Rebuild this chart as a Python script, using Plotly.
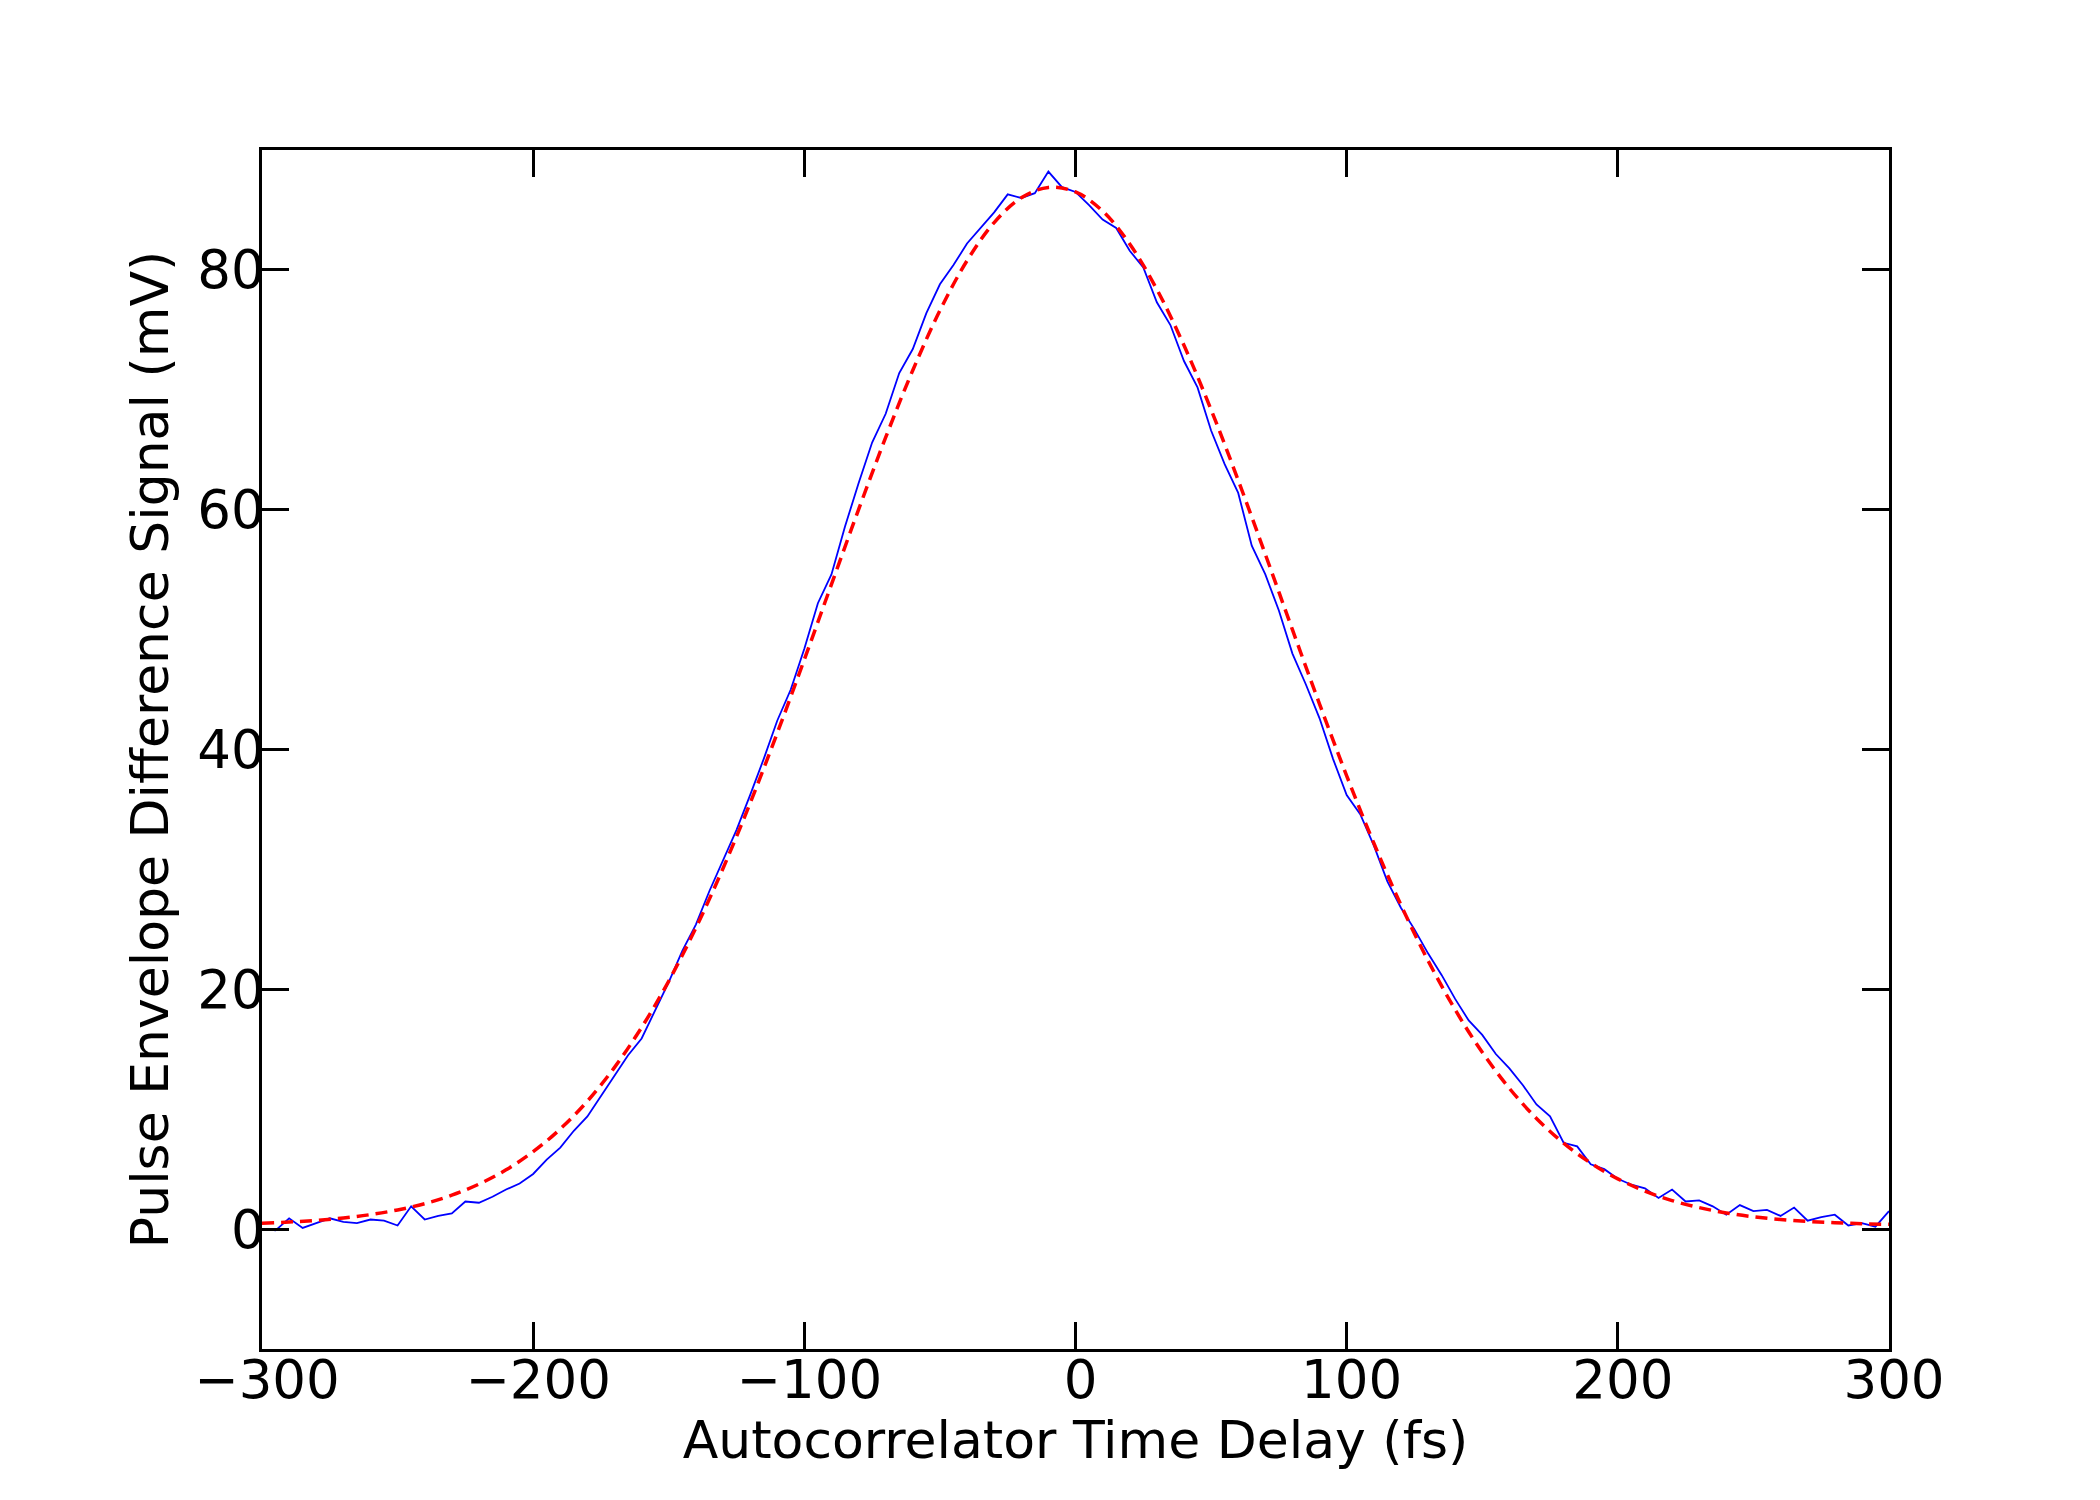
import plotly.graph_objects as go

delay_fs = list(range(-300, 301, 5))
signal_mv = [
    0.0, -0.1, 0.9, 0.1, 0.5, 0.9, 0.6, 0.5, 0.8, 0.7,
    0.3, 1.9, 0.8, 1.1, 1.3, 2.3, 2.2, 2.7, 3.3, 3.8,
    4.6, 5.8, 6.8, 8.2, 9.4, 11.1, 12.8, 14.5, 15.9, 18.3,
    20.6, 23.2, 25.4, 28.2, 30.8, 33.3, 36.2, 39.2, 42.4, 45.0,
    48.4, 52.2, 54.6, 58.6, 62.2, 65.6, 68.0, 71.4, 73.4, 76.4,
    78.8, 80.4, 82.2, 83.5, 84.8, 86.3, 86.0, 86.4, 88.2, 86.9,
    86.5, 85.4, 84.2, 83.5, 81.6, 80.2, 77.3, 75.4, 72.4, 70.2,
    66.6, 63.8, 61.4, 57.0, 54.6, 51.6, 48.0, 45.4, 42.6, 39.2,
    36.2, 34.6, 32.0, 29.0, 26.8, 25.0, 23.0, 21.2, 19.2, 17.4,
    16.2, 14.6, 13.4, 12.0, 10.4, 9.4, 7.2, 6.9, 5.4, 5.0,
    4.2, 3.7, 3.4, 2.6, 3.3, 2.3, 2.4, 1.9, 1.2, 2.0,
    1.5, 1.6, 1.1, 1.8, 0.7, 1.0, 1.2, 0.3, 0.5, 0.2,
    1.5,
]

# Fitted envelope (red dashed) at 10 fs spacing
fit_delay_fs = list(range(-300, 301, 10))
fit_mv = [
    0.49, 0.59, 0.73, 0.93, 1.21, 1.60, 2.12, 2.83, 3.75, 4.94,
    6.46, 8.35, 10.67, 13.49, 16.82, 20.69, 25.12, 30.08, 35.52, 41.37,
    47.50, 53.77, 60.01, 66.03, 71.63, 76.61, 80.77, 83.95, 86.01, 86.88,
    86.50, 84.91, 82.16, 78.38, 73.71, 68.34, 62.46, 56.28, 49.99, 43.79,
    37.81, 32.20, 27.04, 22.40, 18.30, 14.75, 11.74, 9.23, 7.17, 5.51,
    4.19, 3.17, 2.38, 1.79, 1.35, 1.03, 0.80, 0.64, 0.53, 0.45,
    0.40,
]

x_ticks = [-300, -200, -100, 0, 100, 200, 300]
y_ticks = [0, 20, 40, 60, 80]

fig = go.Figure()
fig.add_trace(go.Scatter(
    x=delay_fs, y=signal_mv, mode="lines",
    line=dict(color="#0000ff", width=1.8),
    showlegend=False,
))
fig.add_trace(go.Scatter(
    x=fit_delay_fs, y=fit_mv, mode="lines",
    line=dict(color="#ff0000", width=3.5, dash="12px,7px", shape="spline"),
    showlegend=False,
))

axis_common = dict(
    showgrid=False, zeroline=False,
    showline=True, linecolor="black", linewidth=2.5,
    mirror="ticks", ticks="inside", ticklen=27, tickwidth=3, tickcolor="black",
    tickfont=dict(family="DejaVu Sans", size=53, color="black"),
)

fig.update_layout(
    width=2100, height=1500,
    margin=dict(l=262, r=211, t=150, b=151),
    paper_bgcolor="white", plot_bgcolor="white",
    xaxis=dict(
        range=[-300, 300], tickvals=x_ticks,
        ticklabelstandoff=-17, ticklabelshift=5,
        title=dict(text="Autocorrelator Time Delay (fs)",
                   font=dict(family="DejaVu Sans", size=52, color="black"),
                   standoff=6),
        **axis_common,
    ),
    yaxis=dict(
        range=[-10, 90], tickvals=y_ticks,
        ticklabelstandoff=-16,
        title=dict(text="Pulse Envelope Difference Signal (mV)",
                   font=dict(family="DejaVu Sans", size=52, color="black"),
                   standoff=12),
        **axis_common,
    ),
)

fig.write_html("out.html")
